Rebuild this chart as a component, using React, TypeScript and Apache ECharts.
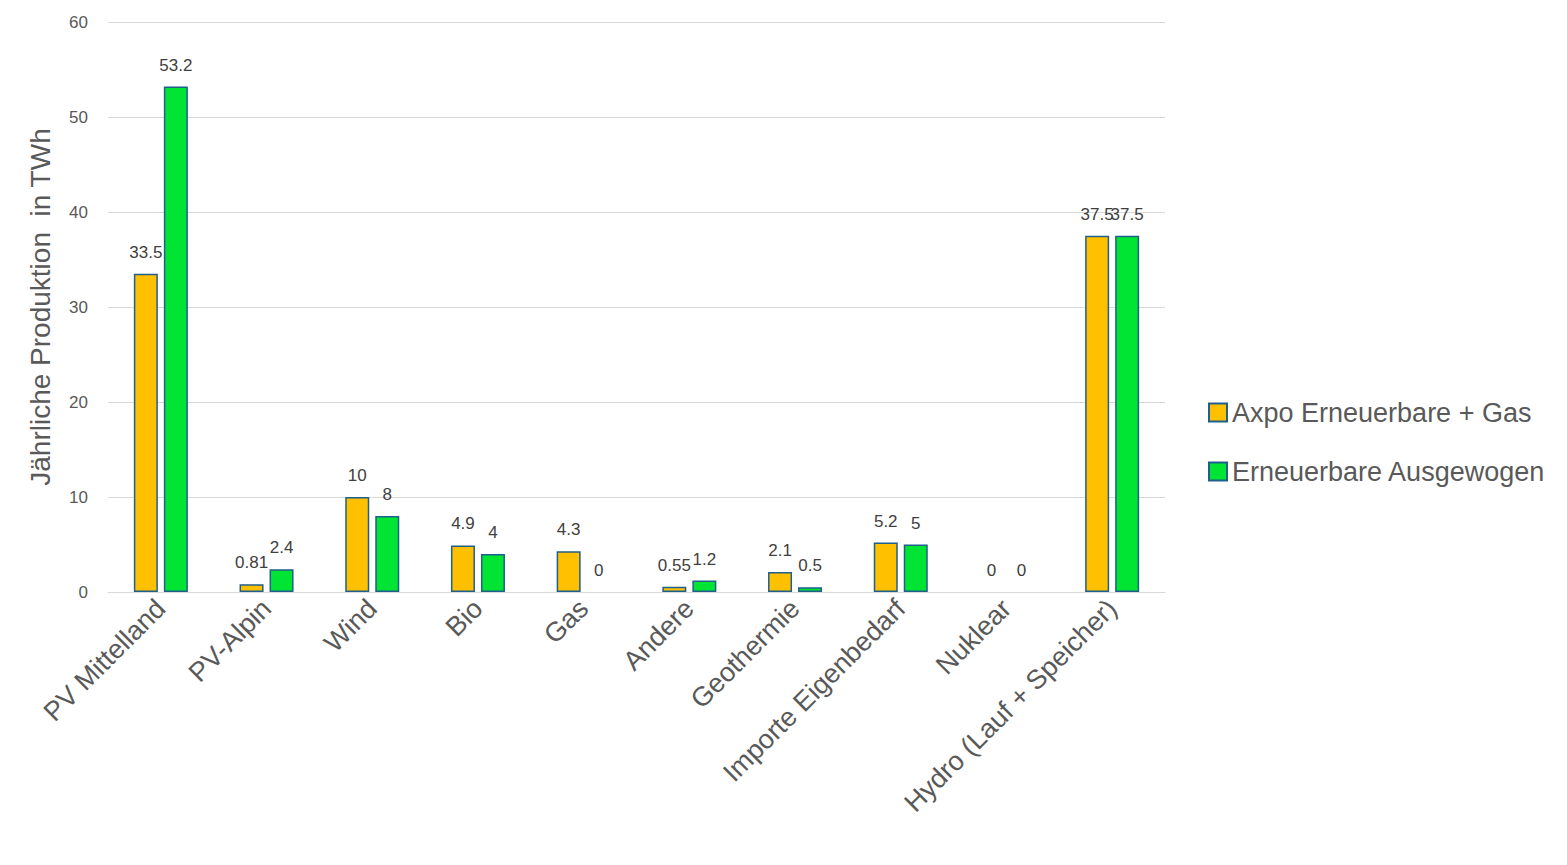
import { useEffect, useRef } from "react";
import * as echarts from "echarts";

const categories = [
  "PV Mittelland",
  "PV-Alpin",
  "Wind",
  "Bio",
  "Gas",
  "Andere",
  "Geothermie",
  "Importe Eigenbedarf",
  "Nuklear",
  "Hydro (Lauf + Speicher)",
];
const axpo = [33.5, 0.81, 10, 4.9, 4.3, 0.55, 2.1, 5.2, 0, 37.5];
const ausgewogen = [53.2, 2.4, 8, 4, 0, 1.2, 0.5, 5, 0, 37.5];

export default function App() {
  const ref = useRef<HTMLDivElement>(null);

  useEffect(() => {
    document.body.style.margin = "0";
    if (!ref.current) return;
    const chart = echarts.init(ref.current, null, { renderer: "svg" });
    const font = "Liberation Sans, Arial, sans-serif";
    const barStyle = (color: string, values: number[]) => ({
      type: "bar" as const,
      barWidth: 24,
      barGap: "25%",
      data: values.map((v) => ({
        value: v,
        itemStyle: v === 0 ? { borderWidth: 0 } : undefined,
      })),
      itemStyle: { color, borderColor: "#1f5f8b", borderWidth: 1.5 },
      label: {
        show: true,
        position: "top" as const,
        distance: 13,
        color: "#404040",
        fontSize: 17,
        fontFamily: font,
      },
    });
    chart.setOption({
      animation: false,
      backgroundColor: "#fff",
      grid: { left: 108, right: 402, top: 22, bottom: 273 },
      legend: {
        orient: "vertical",
        left: 1203,
        top: 394,
        icon: "rect",
        itemWidth: 18,
        itemHeight: 18,
        itemGap: 32,
        textStyle: { color: "#595959", fontSize: 27, fontFamily: font },
      },
      xAxis: {
        type: "category",
        data: categories,
        axisLine: { lineStyle: { color: "#d9d9d9" } },
        axisTick: { show: false },
        axisLabel: {
          rotate: 45,
          interval: 0,
          color: "#595959",
          fontSize: 27,
          fontFamily: font,
          margin: 12,
        },
      },
      yAxis: {
        type: "value",
        min: 0,
        max: 60,
        interval: 10,
        name: "Jährliche Produktion  in TWh",
        nameLocation: "middle",
        nameGap: 54,
        nameTextStyle: { color: "#595959", fontSize: 28, fontFamily: font },
        axisLine: { show: false },
        axisTick: { show: false },
        axisLabel: { color: "#595959", fontSize: 17, fontFamily: font, margin: 20 },
        splitLine: { lineStyle: { color: "#d9d9d9" } },
      },
      series: [
        { name: "Axpo Erneuerbare + Gas", ...barStyle("#ffc000", axpo) },
        { name: "Erneuerbare Ausgewogen", ...barStyle("#00e533", ausgewogen) },
      ],
    });
    return () => chart.dispose();
  }, []);

  return <div ref={ref} style={{ width: 1567, height: 865 }} />;
}
